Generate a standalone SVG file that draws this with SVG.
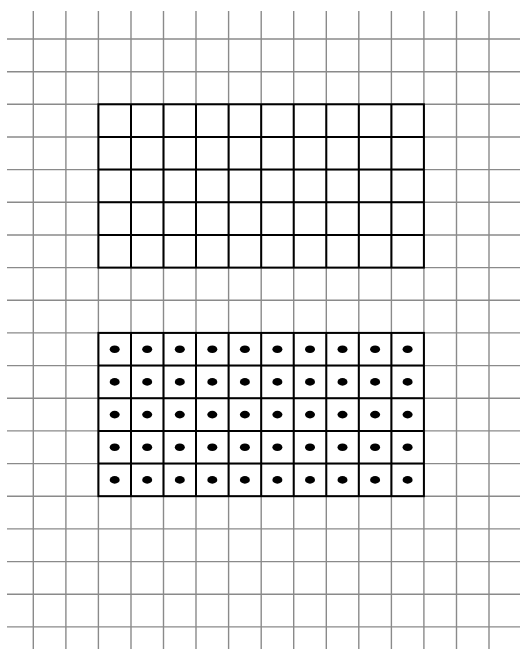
<svg xmlns="http://www.w3.org/2000/svg" width="520" height="649" viewBox="0 0 520 649">
<style>
.g{stroke:#8a8a8a;stroke-width:1.4;fill:none}
.b{stroke:#000;stroke-width:2;fill:none}
.d{fill:#000}
</style>
<rect width="520" height="649" fill="#fff"/>
<g id="grid" class="g">
<path d="M33.3 11V649M65.9 11V649M98.4 11V649M131 11V649M163.5 11V649M196 11V649M228.6 11V649M261.2 11V649M293.7 11V649M326.3 11V649M358.8 11V649M391.4 11V649M423.9 11V649M456.5 11V649M489 11V649"/>
<path d="M7 39H520M7 71.7H520M7 104.3H520M7 137H520M7 169.6H520M7 202.3H520M7 235H520M7 267.6H520M7 300.3H520M7 332.9H520M7 365.6H520M7 398.3H520M7 430.9H520M7 463.6H520M7 496.2H520M7 528.9H520M7 561.6H520M7 594.2H520M7 626.9H520"/>
</g>
<g id="top-grid" class="b">
<rect x="98.4" y="104.3" width="325.5" height="163.3"/>
<path d="M131 104.3V267.6M163.5 104.3V267.6M196 104.3V267.6M228.6 104.3V267.6M261.2 104.3V267.6M293.7 104.3V267.6M326.3 104.3V267.6M358.8 104.3V267.6M391.4 104.3V267.6"/>
<path d="M98.4 137H423.9M98.4 169.6H423.9M98.4 202.3H423.9M98.4 235H423.9"/>
</g>
<g id="bottom-grid">
<g class="b">
<rect x="98.4" y="332.9" width="325.5" height="163.3"/>
<path d="M131 332.9V496.2M163.5 332.9V496.2M196 332.9V496.2M228.6 332.9V496.2M261.2 332.9V496.2M293.7 332.9V496.2M326.3 332.9V496.2M358.8 332.9V496.2M391.4 332.9V496.2"/>
<path d="M98.4 365.6H423.9M98.4 398.3H423.9M98.4 430.9H423.9M98.4 463.6H423.9"/>
</g>
<defs><ellipse id="dot" rx="5" ry="3.8" class="d"/></defs>
<g id="dots">
<g transform="translate(0,349.3)"><use href="#dot" x="114.7"/><use href="#dot" x="147.2"/><use href="#dot" x="179.8"/><use href="#dot" x="212.3"/><use href="#dot" x="244.9"/><use href="#dot" x="277.4"/><use href="#dot" x="310"/><use href="#dot" x="342.5"/><use href="#dot" x="375.1"/><use href="#dot" x="407.6"/></g>
<g transform="translate(0,381.9)"><use href="#dot" x="114.7"/><use href="#dot" x="147.2"/><use href="#dot" x="179.8"/><use href="#dot" x="212.3"/><use href="#dot" x="244.9"/><use href="#dot" x="277.4"/><use href="#dot" x="310"/><use href="#dot" x="342.5"/><use href="#dot" x="375.1"/><use href="#dot" x="407.6"/></g>
<g transform="translate(0,414.6)"><use href="#dot" x="114.7"/><use href="#dot" x="147.2"/><use href="#dot" x="179.8"/><use href="#dot" x="212.3"/><use href="#dot" x="244.9"/><use href="#dot" x="277.4"/><use href="#dot" x="310"/><use href="#dot" x="342.5"/><use href="#dot" x="375.1"/><use href="#dot" x="407.6"/></g>
<g transform="translate(0,447.2)"><use href="#dot" x="114.7"/><use href="#dot" x="147.2"/><use href="#dot" x="179.8"/><use href="#dot" x="212.3"/><use href="#dot" x="244.9"/><use href="#dot" x="277.4"/><use href="#dot" x="310"/><use href="#dot" x="342.5"/><use href="#dot" x="375.1"/><use href="#dot" x="407.6"/></g>
<g transform="translate(0,479.9)"><use href="#dot" x="114.7"/><use href="#dot" x="147.2"/><use href="#dot" x="179.8"/><use href="#dot" x="212.3"/><use href="#dot" x="244.9"/><use href="#dot" x="277.4"/><use href="#dot" x="310"/><use href="#dot" x="342.5"/><use href="#dot" x="375.1"/><use href="#dot" x="407.6"/></g>
</g>
</g>
</svg>
